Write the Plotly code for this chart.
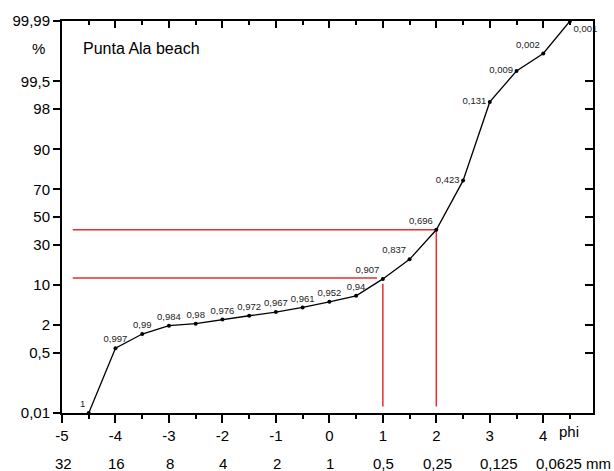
import plotly.graph_objects as go
from statistics import NormalDist

# ---- data ----
phi = [-4.5, -4, -3.5, -3, -2.5, -2, -1.5, -1, -0.5, 0, 0.5, 1, 1.5, 2, 2.5, 3, 3.5, 4, 4.5]
cum_pct = [0.01, 0.64, 1.32, 1.96, 2.15, 2.60, 3.05, 3.56, 4.31, 5.38, 6.74, 12.0, 21.1,
           40.4, 75.5, 98.55, 99.72, 99.904, 99.99]
point_labels = ["1", "0,997", "0,99", "0,984", "0,98", "0,976", "0,972", "0,967", "0,961",
                "0,952", "0,94", "0,907", "0,837", "0,696", "0,423", "0,131", "0,009",
                "0,002", "0,001"]
label_pos = ["top left", "top center", "top center", "top center", "top center", "top center",
             "top center", "top center", "top center", "top center", "top center", "top left",
             "top left", "top left", "middle left", "middle left", "middle left", "top left",
             "bottom right"]

y_tick_pct = [0.01, 0.5, 2, 10, 30, 50, 70, 90, 98, 99.5, 99.99]
y_tick_text = ["0,01", "0,5", "2", "10", "30", "50", "70", "90", "98", "99,5", "99,99"]
x_tick_vals = [-5, -4, -3, -2, -1, 0, 1, 2, 3, 4]
x_tick_text = ["-5", "-4", "-3", "-2", "-1", "0", "1", "2", "3", "4"]
mm_phi = [-5, -4, -3, -2, -1, 0, 1, 2, 3, 4]
mm_labels = ["32", "16", "8", "4", "2", "1", "0,5", "0,25", "0,125", "0,0625 mm"]

# red reference lines (phi, cumulative %)
ref_upper_phi = [-4.8, 2, 2]
ref_upper_pct = [40.4, 40.4, 0.0163]
ref_lower_h_phi = [-4.8, 0.89]
ref_lower_h_pct = [12.4, 12.4]
ref_lower_v_phi = [1, 1]
ref_lower_v_pct = [10.3, 0.0163]

nd = NormalDist()
def z(p):
    return nd.inv_cdf(p / 100.0)

FONT = "Liberation Sans, Arial, sans-serif"
RED = "rgb(232,45,45)"

fig = go.Figure()
fig.add_trace(go.Scatter(x=ref_upper_phi, y=[z(p) for p in ref_upper_pct], mode="lines",
                         line=dict(color=RED, width=1.5), hoverinfo="skip", showlegend=False))
fig.add_trace(go.Scatter(x=ref_lower_h_phi, y=[z(p) for p in ref_lower_h_pct], mode="lines",
                         line=dict(color=RED, width=1.5), hoverinfo="skip", showlegend=False))
fig.add_trace(go.Scatter(x=ref_lower_v_phi, y=[z(p) for p in ref_lower_v_pct], mode="lines",
                         line=dict(color=RED, width=1.5), hoverinfo="skip", showlegend=False))
fig.add_trace(go.Scatter(x=phi, y=[z(p) for p in cum_pct], mode="lines+markers+text",
                         line=dict(color="black", width=1.3),
                         marker=dict(color="black", size=4),
                         text=point_labels, textposition=label_pos,
                         textfont=dict(family=FONT, size=9.5, color="#222"),
                         cliponaxis=False, showlegend=False))
# invisible trace for the mirrored (inside-tick) axes
fig.add_trace(go.Scatter(x=phi, y=[z(p) for p in cum_pct], xaxis="x2", yaxis="y2",
                         mode="lines", opacity=0, hoverinfo="skip", showlegend=False))

yr = [z(0.01), z(99.99)]
xr = [-5, 4.93]

fig.update_layout(
    width=614, height=471,
    margin=dict(l=60, r=21, t=19, b=58),
    paper_bgcolor="white", plot_bgcolor="white",
    font=dict(family=FONT, size=15, color="black"),
    xaxis=dict(range=xr, tickvals=x_tick_vals, ticktext=x_tick_text,
               showline=True, linecolor="black", linewidth=2, mirror=True,
               ticks="outside", ticklen=8, tickwidth=1.5, tickcolor="black",
               minor=dict(ticks="outside", dtick=0.5, tick0=-5, ticklen=4, tickwidth=1.5,
                          tickcolor="black"),
               showgrid=False, zeroline=False, tickfont=dict(size=15)),
    yaxis=dict(range=yr, tickvals=[z(p) for p in y_tick_pct], ticktext=y_tick_text,
               showline=True, linecolor="black", linewidth=2, mirror=True,
               ticks="outside", ticklen=7, tickwidth=1.5, tickcolor="black",
               showgrid=False, zeroline=False, tickfont=dict(size=15)),
    xaxis2=dict(range=xr, overlaying="x", side="top", anchor="y2", matches="x",
                tickvals=x_tick_vals, showticklabels=False, ticks="inside", ticklen=7,
                tickwidth=1.5, tickcolor="black",
                minor=dict(ticks="inside", dtick=0.5, tick0=-5, ticklen=4, tickwidth=1.5,
                           tickcolor="black"),
                showline=False, showgrid=False, zeroline=False),
    yaxis2=dict(range=yr, overlaying="y", side="right", anchor="x2", matches="y",
                tickvals=[z(p) for p in y_tick_pct], showticklabels=False, ticks="inside",
                ticklen=8, tickwidth=1.5, tickcolor="black",
                showline=False, showgrid=False, zeroline=False),
)

ann = [
    dict(text="Punta Ala beach", xref="paper", yref="paper", x=0.0366, y=0.93,
         xanchor="left", yanchor="middle", showarrow=False, font=dict(size=16)),
    dict(text="%", xref="paper", yref="paper", x=-0.045, y=0.931,
         xanchor="center", yanchor="middle", showarrow=False, font=dict(size=15)),
    dict(text="phi", xref="paper", yref="paper", x=0.954, y=-0.048,
         xanchor="center", yanchor="middle", showarrow=False, font=dict(size=15)),
]
for xv, lab in zip(mm_phi, mm_labels):
    if lab.endswith("mm"):
        ann.append(dict(text=lab, x=xv, xref="x", yref="paper", y=-0.128, xanchor="left",
                        xshift=-9, yanchor="middle", showarrow=False, font=dict(size=15)))
    else:
        shift = 9 if lab == "0,125" else 1
        ann.append(dict(text=lab, x=xv, xref="x", yref="paper", y=-0.128, xanchor="center",
                        xshift=shift, yanchor="middle", showarrow=False, font=dict(size=15)))
fig.update_layout(annotations=ann)

fig.write_html("out.html", config={"displayModeBar": False},
               post_script="document.body.style.margin='0';")
